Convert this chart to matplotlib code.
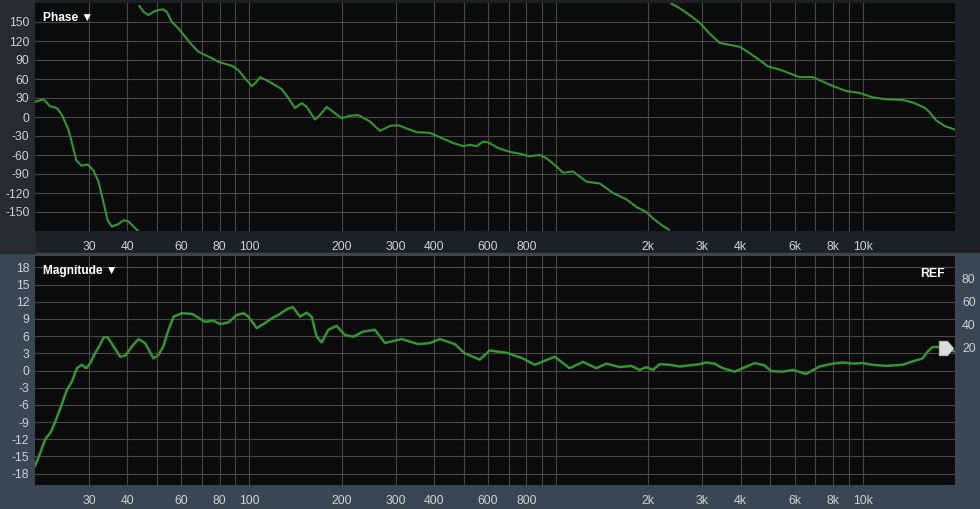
import numpy as np
import matplotlib
matplotlib.use("Agg")
import matplotlib.pyplot as plt
from matplotlib.patches import Rectangle
from matplotlib.path import Path

plt.rcParams['font.family'] = ['Liberation Sans', 'DejaVu Sans']

# phase response, wrapped to +-180 deg as displayed
PHASE_FREQ = [20.0, 21.3, 22.4, 23.6, 24.5, 25.7, 26.4, 27.3, 28.4, 29.7,
              31.0, 32.2, 33.5, 34.5, 35.6, 37.4, 38.9, 40.4, 41.9, 43.2,
              43.8, 45.2, 46.9, 48.7, 50.5, 52.4, 53.8, 55.9, 58.7, 61.7,
              64.9, 68.2, 71.7, 75.4, 79.3, 83.3, 87.6, 92.1, 96.8, 101.8,
              104.4, 108.4, 113.9, 119.7, 127.5, 134.0, 140.9, 148.1, 153.8, 163.7,
              169.9, 178.7, 200, 212.8, 226.5, 247.3, 266.6, 287.3, 305.7, 325.6,
              351.1, 387.9, 418.1, 461.8, 498, 523.6, 550.6, 578.5, 600.6, 647.3,
              706.8, 761.6, 820.9, 885, 930.5, 1003, 1054, 1136, 1256, 1388,
              1534, 1696, 1828, 1970, 2070, 2231, 2334,
              2377, 2529, 2727, 2938, 3167, 3414, 3680, 3966, 4275, 4608,
              4905, 5355, 5771, 6221, 6872, 7407, 7987, 8831, 9756, 10780,
              11920, 13500, 14550, 15890, 16500, 17340, 18460, 20000]
PHASE_DEG = [24, 28, 17, 14, 3, -20, -41, -69, -77, -75,
             -84, -102, -136, -163, -173, -169, -163, -165, -173, -179,
             175, 166, 161, 166, 169, 170, 166, 150, 140, 127,
             114, 103, 98, 93, 87, 84, 81, 74, 61, 49,
             53, 63, 58, 52, 44, 30, 14, 22, 16, -4,
             3, 16, -2, 2, 3, -7, -22, -14, -13, -18,
             -24, -25, -32, -41, -46, -44, -46, -39, -40, -49,
             -55, -58, -62, -60, -65, -78, -88, -86, -102, -105,
             -120, -130, -142, -150, -160, -172, -178,
             179, 172, 161, 149, 132, 117, 114, 111, 101, 90,
             80, 75, 69, 63, 63, 56, 49, 41, 38, 31,
             28, 27, 23, 15, 8, -5, -14, -20]

# magnitude response in dB
MAG_FREQ = [20.0, 20.8, 21.6, 22.5, 23.3, 24.2, 25.4, 26.4, 27.4, 28.4,
            29.4, 30.3, 31.4, 32.6, 33.5, 34.5, 36.1, 37.9, 39.4, 41.4,
            43.5, 45.7, 48.7, 50.5, 52.4, 54.5, 56.6, 60.2, 64.9, 67.4,
            71.7, 76.3, 80.3, 85.4, 91.0, 95.6, 99.3, 105.7, 111.1, 118.3,
            124.3, 132.4, 138.5, 146.3, 153.8, 159.7, 165.8, 172.2, 180.9, 192.6,
            205, 218.2, 235.1, 256.7, 276.7, 313.6, 355.2, 387.9, 418.1, 467.7,
            504.3, 564.2, 608.1, 689.3, 780.6, 852.1, 990.3, 1108, 1224, 1354,
            1459, 1613, 1761, 1874, 1970, 2070, 2177, 2347, 2529, 2727,
            2938, 3090, 3288, 3499, 3821, 4066, 4440, 4784, 5030, 5487,
            5916, 6540, 7228, 7987, 8610, 9278, 10000, 10780, 11920, 13500,
            14550, 15680, 16280, 16900, 18220, 20000]
MAG_DB = [-16.7, -14.4, -12.0, -10.8, -8.9, -6.6, -3.4, -1.9, 0.4, 1.0,
          0.4, 1.3, 3.0, 4.5, 5.8, 5.8, 4.2, 2.4, 2.6, 4.2,
          5.5, 4.8, 2.1, 2.7, 4.2, 7.1, 9.4, 10.0, 9.9, 9.4,
          8.5, 8.7, 8.1, 8.4, 9.7, 10.0, 9.4, 7.4, 8.1, 9.1,
          9.7, 10.7, 11.1, 9.4, 10.1, 9.4, 5.9, 4.9, 7.1, 7.8,
          6.2, 5.9, 6.8, 7.1, 4.8, 5.5, 4.6, 4.8, 5.5, 4.6,
          3.0, 1.9, 3.5, 3.1, 2.1, 1.0, 2.4, 0.4, 1.5, 0.4,
          1.2, 0.6, 0.8, 0.1, 0.6, 0.1, 1.1, 1.0, 0.7, 0.9,
          1.1, 1.4, 1.2, 0.4, -0.2, 0.4, 1.3, 0.9, -0.1, -0.2,
          0.1, -0.6, 0.7, 1.2, 1.4, 1.2, 1.3, 1.0, 0.8, 1.0,
          1.6, 2.1, 3.3, 4.1, 4.1, 3.3]

GRID_FREQ = [30, 40, 50, 60, 70, 80, 90, 100, 200, 300, 400, 500, 600, 700, 800, 900,
             1000, 2000, 3000, 4000, 5000, 6000, 7000, 8000, 9000, 10000]
FREQ_LABELS = {30: '30', 40: '40', 60: '60', 80: '80', 100: '100', 200: '200',
               300: '300', 400: '400', 600: '600', 800: '800', 2000: '2k',
               3000: '3k', 4000: '4k', 6000: '6k', 8000: '8k', 10000: '10k'}
PHASE_TICKS = [150, 120, 90, 60, 30, 0, -30, -60, -90, -120, -150]
MAG_TICKS = [18, 15, 12, 9, 6, 3, 0, -3, -6, -9, -12, -15, -18]
REF_TICKS = [20, 40, 60, 80]
REF_LEVEL = 20  # on the right-hand scale (= 4 dB)

W, H = 980, 509
LINE = '#359530'
GRIDC = '#484848'
TICKC = '#cdd0d4'
TICKSIZE = 8.8


def style_axes(ax, ylim, yticks):
    ax.set_facecolor('#0b0b0b')
    ax.set_xscale('log')
    ax.set_xlim(20, 20000)
    ax.set_ylim(*ylim)
    ax.set_xticks(GRID_FREQ, [FREQ_LABELS.get(f, '') for f in GRID_FREQ])
    ax.xaxis.set_minor_locator(matplotlib.ticker.NullLocator())
    ax.set_yticks(yticks, [str(v) for v in yticks])
    ax.tick_params(length=0, colors=TICKC, labelsize=TICKSIZE)
    ax.tick_params(axis='x', pad=7)
    ax.tick_params(axis='y', pad=4)
    ax.grid(True, color=GRIDC, lw=0.8)
    for s in ax.spines.values():
        s.set_visible(False)


fig = plt.figure(figsize=(W / 100, H / 100), dpi=100, facecolor='#1d2024')
# background sections
fig.patches.append(Rectangle((0, 0), 1, (H - 253) / H, transform=fig.transFigure,
                             color='#3b4654', zorder=-10))
fig.patches.append(Rectangle((0, (H - 253) / H), 35 / W, 253 / H, transform=fig.transFigure,
                             color='#262b31', zorder=-10))

# phase panel
ax1 = fig.add_axes([35 / W, (H - 231) / H, 920 / W, 228 / H])
style_axes(ax1, (-180, 180), PHASE_TICKS)
pf = np.array(PHASE_FREQ, dtype=float)
pd_ = np.array(PHASE_DEG, dtype=float)
breaks = np.where(np.abs(np.diff(pd_)) > 180)[0] + 1
for seg_f, seg_p in zip(np.split(pf, breaks), np.split(pd_, breaks)):
    ax1.plot(seg_f, seg_p, color=LINE, lw=1.5)
ax1.text(8 / 920, 1 - 15 / 228, 'Phase ▼', transform=ax1.transAxes, color='white',
         fontsize=8.6, fontweight='bold', va='center', ha='left')

# magnitude panel
ax2 = fig.add_axes([35 / W, (H - 485) / H, 920 / W, 229 / H])
style_axes(ax2, (-20, 20), MAG_TICKS)
ax2.plot(MAG_FREQ, MAG_DB, color=LINE, lw=1.8)
ax2.text(8 / 920, 1 - 15 / 229, 'Magnitude ▼', transform=ax2.transAxes, color='white',
         fontsize=8.6, fontweight='bold', va='center', ha='left')
ax2.text(0.989, 1 - 18 / 229, 'REF', transform=ax2.transAxes, color='white',
         fontsize=8.8, fontweight='bold', va='center', ha='right')

sec = ax2.secondary_yaxis('right', functions=(lambda v: v * 5, lambda v: v / 5))
sec.set_yticks(REF_TICKS, [str(v) for v in REF_TICKS])
sec.tick_params(length=0, colors=TICKC, labelsize=TICKSIZE, pad=5)
for s in sec.spines.values():
    s.set_visible(False)

flag = Path([(-1, -1), (0.15, -1), (1, 0), (0.15, 1), (-1, 1), (-1, -1)],
            [Path.MOVETO, Path.LINETO, Path.LINETO, Path.LINETO, Path.LINETO, Path.CLOSEPOLY])
ax2.plot([18700], [REF_LEVEL / 5], marker=flag, markersize=10.5, color='#dcdcdc',
         markeredgecolor='#b8b8b8', markeredgewidth=0.5, clip_on=False, zorder=5)

fig.savefig('out.png', dpi=100, facecolor=fig.get_facecolor())
